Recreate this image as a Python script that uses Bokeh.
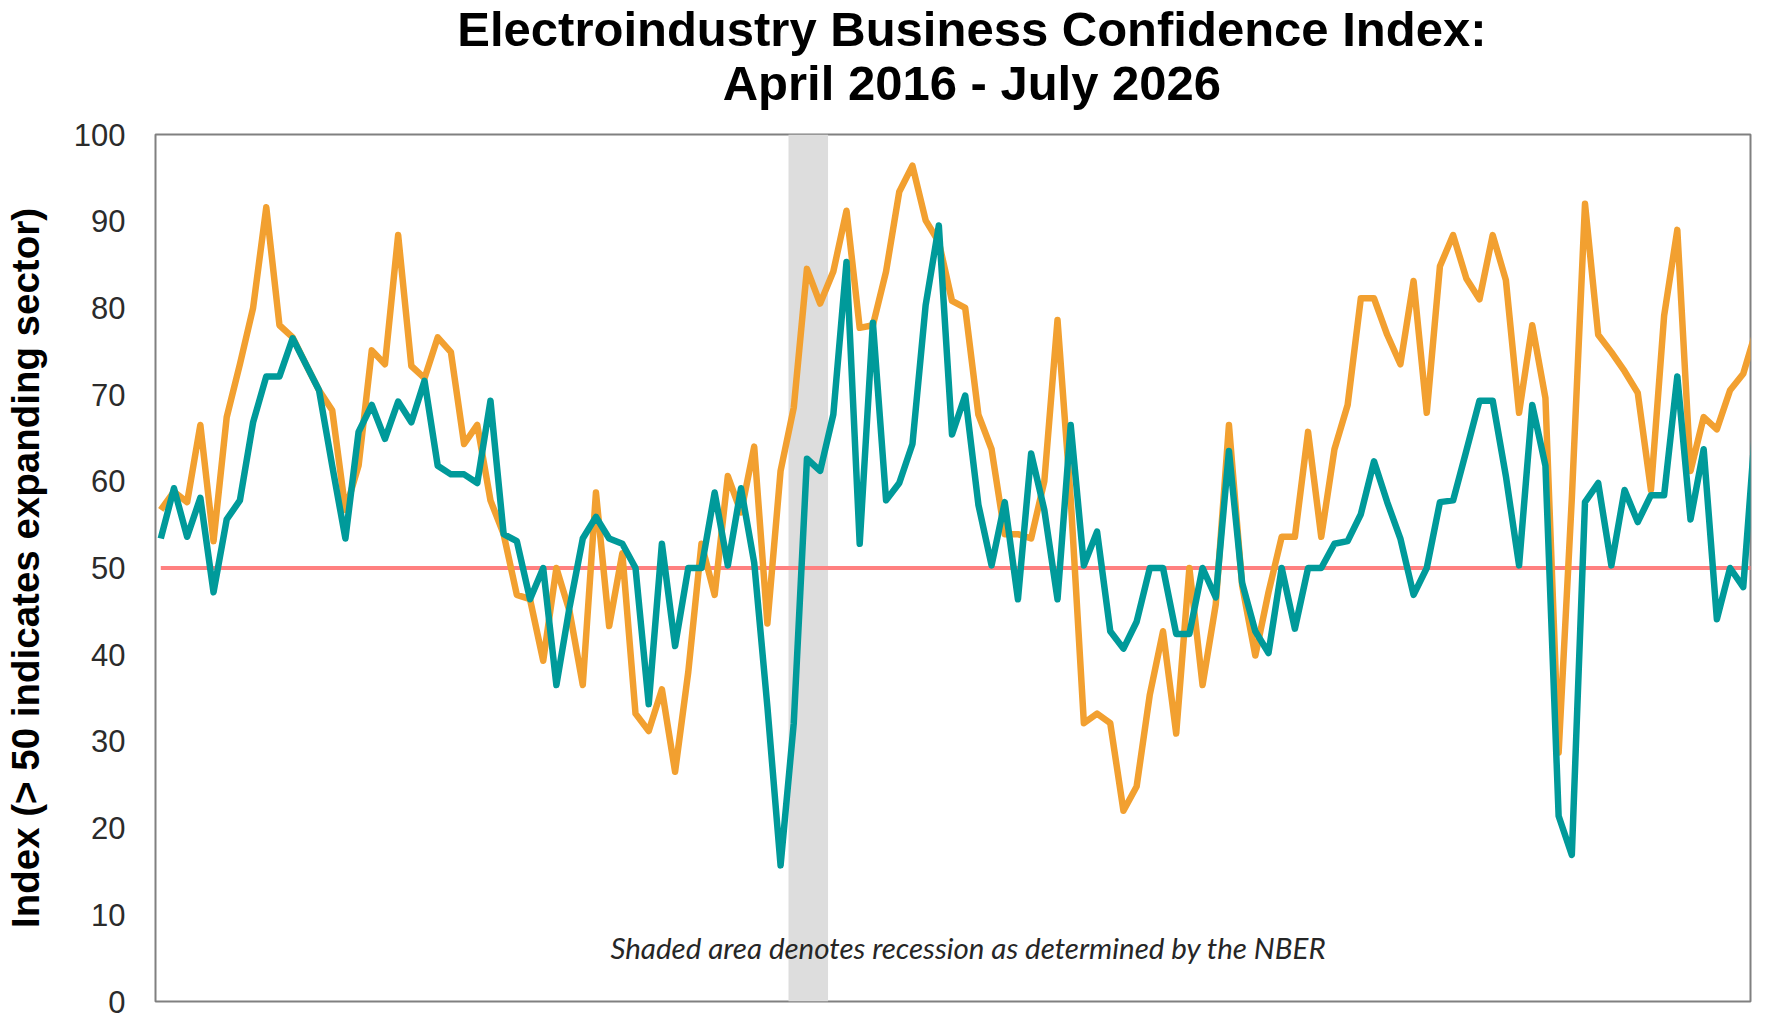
from bokeh.plotting import figure
from bokeh.layouts import column
from bokeh.models import Range1d, Label, FixedTicker
from bokeh.embed import file_html
from bokeh.resources import INLINE

# Month index: 0 = April 2016
month_index = list(range(122))

# Orange series
orange_values = [
    56.7, 58.8, 57.6, 66.5, 53.1, 67.4, 73.5, 80.0, 91.6, 78.0,
    76.6, 73.5, 70.5, 68.2, 56.7, 61.8, 75.1, 73.5, 88.4, 73.3,
    71.9, 76.6, 74.9, 64.3, 66.5, 57.8, 53.9, 46.9, 46.4, 39.3,
    50.0, 45.0, 36.5, 58.7, 43.3, 51.7, 33.2, 31.2, 36.0, 26.5,
    38.0, 52.8, 46.9, 60.6, 56.4, 64.0, 43.6, 61.2, 68.5, 84.5,
    80.5, 84.2, 91.2, 77.7, 78.0, 84.2, 93.4, 96.4, 90.1, 87.6,
    80.8, 80.0, 67.7, 63.7, 53.9, 53.9, 53.4, 60.0, 78.6, 58.0,
    32.1, 33.2, 32.1, 22.0, 24.8, 35.4, 42.7, 30.9, 50.0, 36.5,
    45.8, 66.5, 48.0, 39.9, 47.2, 53.6, 53.6, 65.7, 53.6, 63.7,
    68.8, 81.1, 81.1, 76.9, 73.5, 83.1, 67.9, 84.8, 88.4, 83.4,
    81.0, 88.4, 83.2, 67.9, 78.0, 69.6, 28.7, 58.0, 92.0, 76.9,
    74.9, 72.7, 70.2, 59.0, 79.1, 89.0, 61.2, 67.4, 66.0, 70.5,
    72.4, 77.5,
]

# Teal series
teal_values = [
    53.4, 59.2, 53.6, 58.1, 47.2, 55.6, 57.8, 66.8, 72.1, 72.1,
    76.5, 73.5, 70.5, 61.8, 53.4, 65.7, 68.8, 64.9, 69.2, 66.8,
    71.6, 61.8, 60.8, 60.8, 59.8, 69.3, 53.9, 53.1, 46.4, 50.0,
    36.5, 45.5, 53.4, 55.9, 53.4, 52.8, 50.0, 34.3, 52.8, 41.0,
    50.0, 50.0, 58.7, 50.3, 59.2, 50.6, 34.0, 15.7, 32.1, 62.6,
    61.2, 67.7, 85.3, 52.8, 78.3, 57.8, 59.8, 64.3, 80.3, 89.5,
    65.4, 69.9, 57.3, 50.3, 57.6, 46.4, 63.2, 56.7, 46.4, 66.5,
    50.3, 54.2, 42.7, 40.7, 43.8, 50.0, 50.0, 42.4, 42.4, 50.0,
    46.6, 63.5, 48.3, 42.7, 40.2, 50.0, 43.0, 50.0, 50.0, 52.8,
    53.1, 56.2, 62.3, 57.6, 53.4, 46.9, 50.0, 57.6, 57.8, 63.5,
    69.3, 69.3, 60.6, 50.3, 68.8, 61.8, 21.4, 16.9, 57.6, 59.8,
    50.3, 59.0, 55.3, 58.4, 58.4, 72.1, 55.6, 63.7, 44.1, 50.0,
    47.8, 68.0,
]

# NBER recession (in month-index units)
recession_start = [47.6]
recession_end = [50.6]

threshold = 50
y_ticks = [0, 10, 20, 30, 40, 50, 60, 70, 80, 90, 100]

title_line1 = "Electroindustry Business Confidence Index:"
title_line2 = "April 2016 - July 2026"
y_title = "Index (> 50 indicates expanding sector)"
note = "Shaded area denotes recession as determined by the NBER"

ORANGE = "#F2A030"
TEAL = "#009A9A"

W = 1756
FRAME_L = 145
FRAME_R = 6
TITLE_H = 118

# ---- title strip (pixel-for-pixel data space) ---------------------------
t = figure(width=W, height=TITLE_H,
           x_range=Range1d(FRAME_L, W - FRAME_R), y_range=Range1d(0, TITLE_H),
           x_axis_type=None, y_axis_type=None, output_backend="svg",
           toolbar_location=None,
           min_border_left=FRAME_L, min_border_right=FRAME_R,
           min_border_top=0, min_border_bottom=0)
t.outline_line_color = None
t.xgrid.visible = False
t.ygrid.visible = False
t.background_fill_color = "white"
t.border_fill_color = "white"
t.add_layout(Label(x=966.5, y=TITLE_H - 28, text=title_line1,
                   text_font="Liberation Sans", text_font_style="bold",
                   text_font_size="49px", text_color="#000000",
                   text_align="center", text_baseline="middle"))
t.add_layout(Label(x=966.5, y=TITLE_H - 82.5, text=title_line2,
                   text_font="Liberation Sans", text_font_style="bold",
                   text_font_size="49px", text_color="#000000",
                   text_align="center", text_baseline="middle"))

# ---- main chart --------------------------------------------------------
p = figure(width=W, height=896,
           x_range=Range1d(-0.4, 120.55), y_range=Range1d(0, 100),
           output_backend="svg", toolbar_location=None,
           min_border_left=FRAME_L, min_border_right=FRAME_R,
           min_border_top=16, min_border_bottom=13)
p.background_fill_color = "white"
p.border_fill_color = "white"
p.outline_line_color = "#808080"
p.outline_line_width = 2
p.xaxis.visible = False
p.xgrid.visible = False
p.ygrid.visible = False

ax = p.yaxis[0]
ax.ticker = FixedTicker(ticks=y_ticks)
ax.axis_line_color = None
ax.major_tick_line_color = None
ax.minor_tick_line_color = None
ax.major_tick_out = 0
ax.major_tick_in = 0
ax.minor_tick_out = 0
ax.minor_tick_in = 0
ax.major_label_standoff = 30
ax.major_label_text_font = "Liberation Sans"
ax.major_label_text_font_size = "31px"
ax.major_label_text_color = "#2b2b2b"
ax.axis_label = y_title
ax.axis_label_text_font = "Liberation Sans"
ax.axis_label_text_font_style = "bold"
ax.axis_label_text_font_size = "38.5px"
ax.axis_label_text_color = "#000000"
ax.axis_label_standoff = 24

# recession shading
p.quad(left=recession_start, right=recession_end, bottom=0, top=100,
       fill_color="#DDDDDD", line_color=None)

# 50 threshold line
p.line(x=[month_index[0], month_index[-1]], y=[threshold, threshold],
       line_color="#FF8080", line_width=4)

p.line(month_index, orange_values, line_color=ORANGE, line_width=6.5,
       line_join="round")
p.line(month_index, teal_values, line_color=TEAL, line_width=6.5,
       line_join="round")

p.add_layout(Label(x=813, y=54, x_units="screen", y_units="screen", text=note,
                   text_font="Lato", text_font_style="italic",
                   text_font_size="29.5px", text_color="#262626",
                   text_align="center", text_baseline="middle"))

# negative bottom margin keeps the page no taller than the window
layout = column(t, p, spacing=0, styles={"margin-bottom": "-12px"})
open("out.html", "w").write(file_html(layout, INLINE))
